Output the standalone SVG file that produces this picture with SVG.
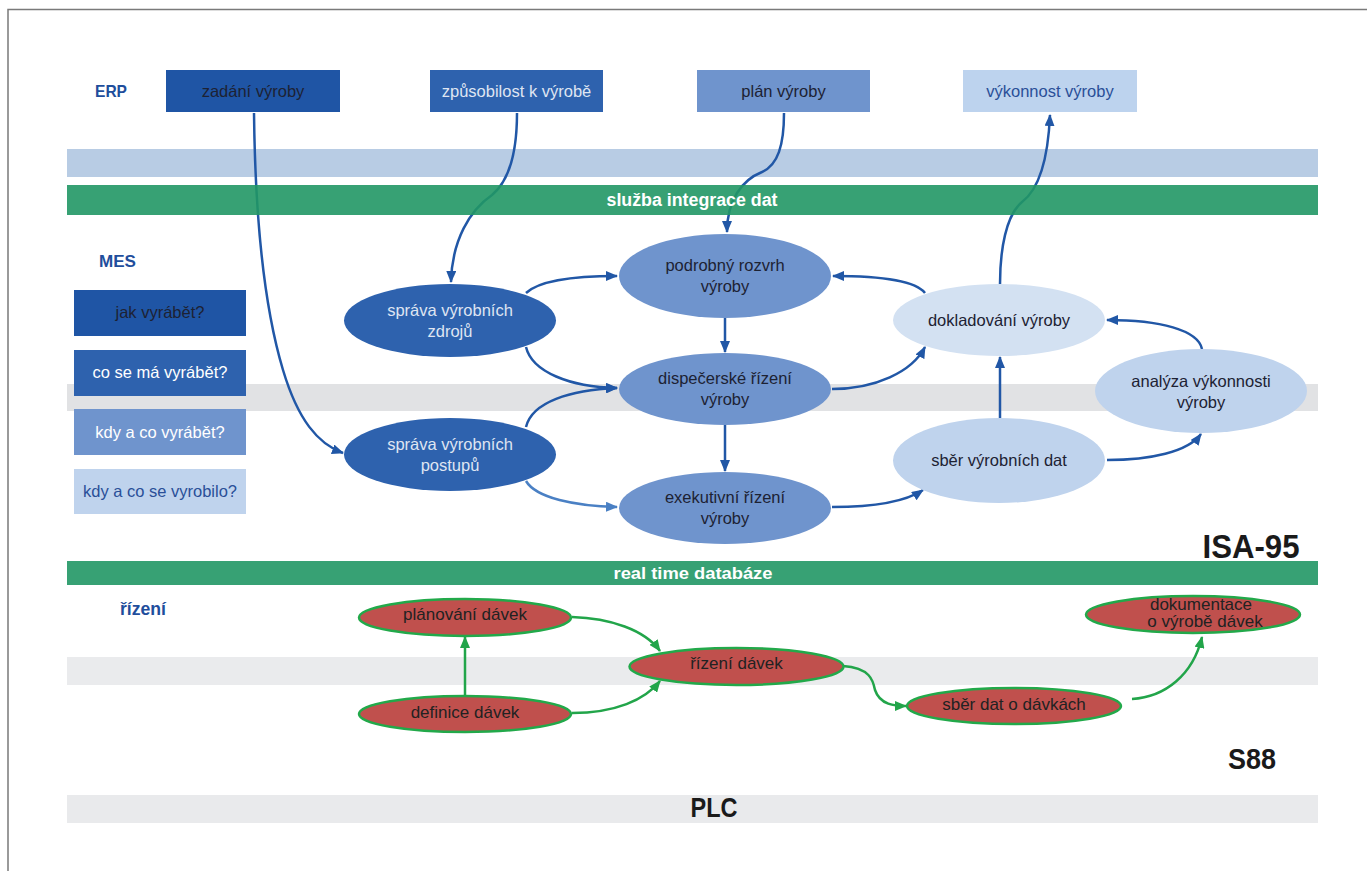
<svg xmlns="http://www.w3.org/2000/svg" width="1367" height="871" viewBox="0 0 1367 871">
<defs>
<style>
.t{font-family:"Liberation Sans",Arial,sans-serif;font-size:16.5px;text-anchor:middle}
.b{font-family:"Liberation Sans",Arial,sans-serif;font-weight:bold;text-anchor:middle}
.dk{fill:#1d2233}
.lt{fill:#dfe5f2}
.wh{fill:#ffffff}
.bl{fill:#2a4f98}
.lab{fill:#1f4e9c}
.c{fill:none;stroke:#2157a6;stroke-width:2.5}
.c2{fill:none;stroke:#4a80c4;stroke-width:2.5}
.g{fill:none;stroke:#22a54a;stroke-width:2.5}
.red{fill:#c0504d;stroke:#22a94a;stroke-width:2.5}
.rt{font-family:"Liberation Sans",Arial,sans-serif;font-size:17px;text-anchor:middle;fill:#222}
</style>
<marker id="ab" markerUnits="userSpaceOnUse" markerWidth="12" markerHeight="10" refX="11" refY="5" orient="auto"><path d="M0,0 L12,5 L0,10 z" fill="#2157a6"/></marker>
<marker id="ab2" markerUnits="userSpaceOnUse" markerWidth="12" markerHeight="10" refX="11" refY="5" orient="auto"><path d="M0,0 L12,5 L0,10 z" fill="#4a80c4"/></marker>
<marker id="ag" markerUnits="userSpaceOnUse" markerWidth="12" markerHeight="10" refX="11" refY="5" orient="auto"><path d="M0,0 L12,5 L0,10 z" fill="#22a54a"/></marker>
</defs>
<rect width="1367" height="871" fill="#ffffff"/>
<!-- frame -->
<path d="M8,871 L8,9.5 L1367,9.5" fill="none" stroke="#7a7a7a" stroke-width="1.5"/>

<!-- bands -->
<rect x="67" y="149" width="1251" height="28" fill="#b8cce4"/>
<rect x="67" y="384" width="1251" height="27" fill="#e1e2e4"/>
<rect x="67" y="657" width="1251" height="28" fill="#eaebed"/>
<rect x="67" y="795" width="1251" height="28" fill="#e9eaec"/>
<text class="b" x="714" y="817" font-size="28" fill="#1a1a1a" textLength="47" lengthAdjust="spacingAndGlyphs">PLC</text>

<!-- labels -->
<text class="b lab" x="111" y="97" font-size="16.5" textLength="32" lengthAdjust="spacingAndGlyphs">ERP</text>
<text class="b lab" x="117.5" y="267" font-size="17" textLength="37" lengthAdjust="spacingAndGlyphs">MES</text>
<text class="b lab" x="143" y="615" font-size="18" textLength="46" lengthAdjust="spacingAndGlyphs">řízení</text>
<text class="b" x="1251" y="558" font-size="33" fill="#1a1a1a" textLength="97" lengthAdjust="spacingAndGlyphs">ISA-95</text>
<text class="b" x="1252" y="769" font-size="29" fill="#1a1a1a" textLength="48" lengthAdjust="spacingAndGlyphs">S88</text>

<!-- ERP nodes -->
<g id="zadani"><rect x="166" y="70" width="174" height="42" fill="#1f55a5"/><text class="t dk" x="253" y="97">zadání výroby</text></g>
<g id="zpusobilost"><rect x="430" y="70" width="173" height="42" fill="#2e62ae"/><text class="t lt" x="516.5" y="97">způsobilost k výrobě</text></g>
<g id="plan"><rect x="697" y="70" width="173" height="42" fill="#6f94cd"/><text class="t dk" x="783.5" y="97">plán výroby</text></g>
<g id="vykonnost"><rect x="963" y="70" width="174" height="42" fill="#bdd3ee"/><text class="t bl" x="1050" y="97">výkonnost výroby</text></g>

<!-- MES question boxes -->
<g id="q1"><rect x="74" y="290" width="172" height="46" fill="#1f55a5"/><text class="t dk" x="160" y="318">jak vyrábět?</text></g>
<g id="q2"><rect x="74" y="350" width="172" height="46" fill="#2e62ae"/><text class="t wh" x="160" y="378">co se má vyrábět?</text></g>
<g id="q3"><rect x="74" y="409" width="172" height="46" fill="#6f94cd"/><text class="t wh" x="160" y="438">kdy a co vyrábět?</text></g>
<g id="q4"><rect x="74" y="469" width="172" height="45" fill="#bfd3ed"/><text class="t bl" x="160" y="497">kdy a co se vyrobilo?</text></g>

<!-- connectors -->
<g id="connectors">
<path class="c" d="M254,113 C255,200 262,300 283,370 C298,420 318,444 343,453" marker-end="url(#ab)"/>
<path class="c" d="M517,113 C517,150 510,180 492,195 C470,210 452,240 451,282" marker-end="url(#ab)"/>
<path class="c" d="M784,113 C784,145 778,165 762,172 C742,180 727,200 727,232" marker-end="url(#ab)"/>
<path class="c" d="M1000,284 C1000,250 1006,215 1022,202 C1038,190 1048,160 1050,115" marker-end="url(#ab)"/>
<path class="c" d="M526,293 C540,280 575,276 617,276" marker-end="url(#ab)"/>
<path class="c" d="M526,347 C532,372 570,387 617,388" marker-end="url(#ab)"/>
<path class="c" d="M526,427 C532,402 570,390 617,388" marker-end="url(#ab)"/>
<path class="c2" d="M526,481 C536,498 575,506 617,507" marker-end="url(#ab2)"/>
<path class="c" d="M725,318 L725,352" marker-end="url(#ab)"/>
<path class="c" d="M725,425 L725,471" marker-end="url(#ab)"/>
<path class="c" d="M832,389 C875,389 912,372 925,347" marker-end="url(#ab)"/>
<path class="c" d="M832,507 C872,507 905,502 923,490" marker-end="url(#ab)"/>
<path class="c" d="M1000,418 L1000,357" marker-end="url(#ab)"/>
<path class="c" d="M1107,460 C1150,460 1188,452 1201,434" marker-end="url(#ab)"/>
<path class="c" d="M1202,349 C1198,330 1160,320 1107,320" marker-end="url(#ab)"/>
<path class="c" d="M925,293 C915,280 880,276 833,276" marker-end="url(#ab)"/>
<path class="g" d="M465,696 L465,637" marker-end="url(#ag)"/>
<path class="g" d="M572,617 C610,618 645,630 660,651" marker-end="url(#ag)"/>
<path class="g" d="M572,713 C615,713 645,700 660,681" marker-end="url(#ag)"/>
<path class="g" d="M843,666 C870,668 873,680 875,690 C880,705 895,706 906,706" marker-end="url(#ag)"/>
<path class="g" d="M1132,699 C1165,697 1193,675 1202,637" marker-end="url(#ag)"/>
</g>

<!-- green bands over connectors -->
<rect x="67" y="185" width="1251" height="30" fill="#219765" fill-opacity="0.9"/>
<text class="b wh" x="692" y="206" font-size="18" textLength="171" lengthAdjust="spacingAndGlyphs">služba integrace dat</text>
<rect x="67" y="561" width="1251" height="24" fill="#37a174"/>
<text class="b wh" x="693" y="579" font-size="17" textLength="159" lengthAdjust="spacingAndGlyphs">real time databáze</text>

<!-- MES ellipses -->
<g id="zdroje"><ellipse cx="450" cy="320.5" rx="106" ry="36.5" fill="#2e62ae"/><text class="t lt" x="450" y="316">správa výrobních</text><text class="t lt" x="450" y="337">zdrojů</text></g>
<g id="postupy"><ellipse cx="450" cy="454.5" rx="106" ry="36.5" fill="#2e62ae"/><text class="t lt" x="450" y="450">správa výrobních</text><text class="t lt" x="450" y="471">postupů</text></g>
<g id="podrobny"><ellipse cx="725" cy="276" rx="106" ry="42" fill="#6f94cd"/><text class="t dk" x="725" y="271">podrobný rozvrh</text><text class="t dk" x="725" y="292">výroby</text></g>
<g id="dispecerske"><ellipse cx="725" cy="389" rx="106" ry="36" fill="#6f94cd"/><text class="t dk" x="725" y="384">dispečerské řízení</text><text class="t dk" x="725" y="405">výroby</text></g>
<g id="exekutivni"><ellipse cx="725" cy="508" rx="106" ry="36" fill="#6f94cd"/><text class="t dk" x="725" y="503">exekutivní řízení</text><text class="t dk" x="725" y="524">výroby</text></g>
<g id="dokladovani"><ellipse cx="999" cy="320" rx="106" ry="36" fill="#d3e1f2"/><text class="t dk" x="999" y="326">dokladování výroby</text></g>
<g id="sber"><ellipse cx="999" cy="460.5" rx="106" ry="42.5" fill="#bfd3ed"/><text class="t dk" x="999" y="466">sběr výrobních dat</text></g>
<g id="analyza"><ellipse cx="1201" cy="391" rx="106" ry="42" fill="#bfd3ed"/><text class="t dk" x="1201" y="387">analýza výkonnosti</text><text class="t dk" x="1201" y="408">výroby</text></g>

<!-- S88 ellipses -->
<g id="planovani"><ellipse class="red" cx="465" cy="617.5" rx="106" ry="18.5"/><text class="rt" x="465" y="620">plánování dávek</text></g>
<g id="definice"><ellipse class="red" cx="465" cy="714" rx="106" ry="18"/><text class="rt" x="465" y="718">definice dávek</text></g>
<g id="rizeni"><ellipse class="red" cx="736.5" cy="666.5" rx="107" ry="18.5"/><text class="rt" x="736.5" y="669">řízení dávek</text></g>
<g id="sberdavek"><ellipse class="red" cx="1014" cy="706" rx="107" ry="18"/><text class="rt" x="1014" y="710">sběr dat o dávkách</text></g>
<g id="dokumentace"><ellipse class="red" cx="1193" cy="614.5" rx="107" ry="18.5"/><text class="rt" x="1201" y="610">dokumentace</text><text class="rt" x="1205" y="627">o výrobě dávek</text></g>
</svg>
